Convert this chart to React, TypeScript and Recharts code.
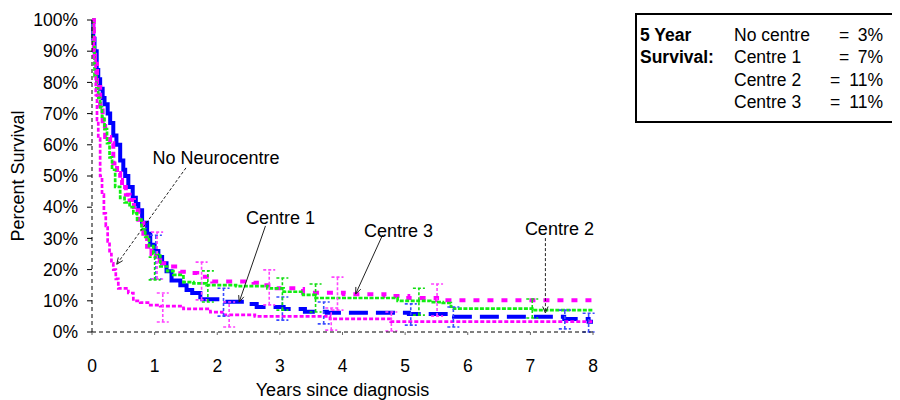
import { ComposedChart, Line, Scatter, ErrorBar, XAxis, YAxis, ReferenceLine } from "recharts";

const FONT = '"Liberation Sans", Arial, Helvetica, sans-serif';

const yearTicks = [0, 1, 2, 3, 4, 5, 6, 7, 8];
const percentTicks = [0, 10, 20, 30, 40, 50, 60, 70, 80, 90, 100];

// Kaplan-Meier steps: [years since diagnosis, % surviving]
const noCentreSteps = [
  [0, 100], [0.03, 88], [0.06, 76], [0.08, 68], [0.1, 62], [0.13, 50], [0.16, 44],
  [0.19, 38], [0.22, 34], [0.25, 29], [0.28, 25], [0.31, 22], [0.34, 20], [0.38, 17],
  [0.42, 14], [0.58, 12.5], [0.66, 10], [0.77, 9.4], [0.93, 8.6], [1.09, 8.3],
  [1.46, 7.4], [1.89, 6.4], [2.08, 5.5], [2.6, 5.0], [3.8, 4.2], [4.77, 3.3], [8, 3.3],
];
const centre1Steps = [
  [0, 100], [0.02, 94], [0.04, 90], [0.075, 84], [0.1, 81], [0.13, 78], [0.17, 75],
  [0.2, 73], [0.25, 70], [0.29, 67], [0.34, 63], [0.39, 60], [0.45, 55], [0.5, 52],
  [0.53, 50], [0.58, 46.5], [0.65, 43], [0.7, 41], [0.74, 39], [0.8, 35], [0.88, 31.5],
  [0.93, 28], [1.0, 26], [1.06, 24], [1.12, 22], [1.19, 19.5], [1.27, 16.5], [1.41, 15],
  [1.51, 13.5], [1.6, 12.5], [1.73, 10.5], [2.13, 9.7], [2.47, 9], [2.63, 8], [3.06, 7.4],
  [3.4, 6.5], [3.75, 6.2], [5.06, 5.8], [5.78, 4.9], [7.54, 4.2], [7.93, 3.3], [8, 3.3],
];
const centre2Steps = [
  [0, 100], [0.02, 92], [0.04, 82], [0.07, 78], [0.1, 75], [0.13, 72], [0.16, 69],
  [0.2, 65], [0.24, 60.5], [0.28, 56], [0.32, 52], [0.37, 46.5], [0.45, 43], [0.52, 41.5],
  [0.6, 40], [0.66, 38], [0.72, 36], [0.79, 33], [0.85, 30.5], [0.91, 27.5], [0.98, 25],
  [1.09, 21], [1.2, 19.5], [1.3, 18.3], [1.46, 16], [1.62, 15.6], [1.83, 15], [2.3, 14.7],
  [2.8, 14], [3.06, 12.9], [3.37, 11.9], [3.57, 10.9], [4.88, 10], [5.4, 9.6], [5.6, 9.3],
  [5.73, 8.1], [5.78, 7.5], [7.03, 7], [8, 7],
];
const centre3Steps = [
  [0, 100], [0.03, 90], [0.05, 86], [0.08, 78.5], [0.13, 71], [0.17, 66], [0.21, 62.5],
  [0.29, 60.5], [0.34, 54], [0.4, 51], [0.45, 48.7], [0.48, 46.5], [0.54, 44], [0.6, 42.3],
  [0.67, 39], [0.74, 36], [0.82, 30.5], [0.88, 27.3], [0.95, 25], [1.02, 23], [1.09, 22],
  [1.25, 21], [1.41, 19.3], [1.57, 18.9], [1.68, 17.7], [1.92, 16.2], [2.58, 15.8],
  [2.71, 15], [2.95, 14], [3.25, 13.8], [3.37, 12.6], [4.02, 12.1], [4.67, 11.5],
  [5.05, 10.9], [5.51, 10.2], [8, 10.2],
];

// confidence intervals: [years, lower %, upper %]
const noCentreCI = [[1.13, 3.2, 12.5], [2.19, 1.6, 9.6], [3.82, 0.6, 7.7], [4.78, 0.3, 6.4]];
const centre1CI = [
  [1.02, 17, 31], [2.1, 5.1, 14], [3.04, 3.8, 11.2], [3.7, 2.6, 9.6],
  [5.09, 2.2, 9], [5.77, 1.6, 8], [7.55, 1, 7], [7.93, 0, 6],
];
const centre2CI = [
  [1.0, 16.7, 24], [1.85, 9.6, 19.6], [3.04, 7, 17.3], [3.57, 6.4, 15.4],
  [5.22, 5.4, 14], [7.03, 4.5, 10.6],
];
const centre3CI = [[1.04, 17, 32], [1.75, 10.3, 22.4], [2.83, 8.7, 19.9], [3.92, 7, 17.6], [5.51, 5.1, 15.4]];

const fiveYear = [
  ["No centre", "3%"],
  ["Centre 1", "7%"],
  ["Centre 2", "11%"],
  ["Centre 3", "11%"],
];

type Pt = { t: number; s: number };

const toPts = (rows: number[][]): Pt[] => rows.map(([t, s]) => ({ t, s }));
const toBars = (rows: number[][]) =>
  rows.map(([t, lo, hi]) => ({ t, s: (lo + hi) / 2, err: (hi - lo) / 2 }));

// split a step curve so the steep early part and the flat tail can be stroked differently
function splitAt(pts: Pt[], t: number): [Pt[], Pt[]] {
  let idx = 0;
  pts.forEach((p, i) => {
    if (p.t <= t) idx = i;
  });
  return [pts.slice(0, idx + 1), pts.slice(idx)];
}

const noCentre = toPts(noCentreSteps);
const centre1 = toPts(centre1Steps);
const centre2 = toPts(centre2Steps);
const centre3 = toPts(centre3Steps);
const [centre1Early, centre1Late] = splitAt(centre1, 1.73);
const [centre3Early, centre3Late] = splitAt(centre3, 1.09);

type Note = {
  text: string;
  from: [number, number];
  to: [number, number];
  dx: number;
  dy: number;
  dashed: boolean;
};

const notes: Note[] = [
  { text: "No Neurocentre", from: [1.5, 52.6], to: [0.395, 21.7], dx: 30, dy: -10, dashed: true },
  { text: "Centre 1", from: [2.77, 34], to: [2.35, 9.6], dx: 15, dy: -8, dashed: false },
  { text: "Centre 3", from: [4.64, 31.1], to: [4.21, 12.2], dx: 16, dy: -4, dashed: false },
  { text: "Centre 2", from: [7.24, 30.1], to: [7.24, 6.1], dx: 14, dy: -9, dashed: true },
];

function arrowShape(note: Note) {
  return (props: any) => {
    const { x1, y1, x2, y2 } = props;
    const ang = Math.atan2(y2 - y1, x2 - x1);
    const len = 7;
    const a1 = ang + Math.PI - 0.4;
    const a2 = ang + Math.PI + 0.4;
    const head = `${x2 + len * Math.cos(a1)},${y2 + len * Math.sin(a1)} ${x2},${y2} ${x2 + len * Math.cos(a2)},${y2 + len * Math.sin(a2)}`;
    return (
      <g>
        <line
          x1={x1}
          y1={y1}
          x2={x2}
          y2={y2}
          stroke="#222"
          strokeWidth={1}
          strokeDasharray={note.dashed ? "3 2" : undefined}
        />
        <polyline points={head} fill="none" stroke="#222" strokeWidth={1} />
        <text
          x={x1 + note.dx}
          y={y1 + note.dy}
          textAnchor="middle"
          dominantBaseline="central"
          fontSize={18}
          fontFamily={FONT}
          fill="#000"
        >
          {note.text}
        </text>
      </g>
    );
  };
}

const noShape = () => <g />;

function SurvivalBox() {
  return (
    <div
      style={{
        position: "absolute",
        left: 627,
        top: 5,
        width: 258,
        height: 97,
        border: "2px solid #000",
        fontFamily: FONT,
        fontSize: 17.5,
        color: "#000",
        paddingTop: 9,
      }}
    >
      {fiveYear.map(([name, value], i) => (
        <div key={name} style={{ position: "relative", height: 22.3, lineHeight: "22px" }}>
          {i === 0 && <span style={{ position: "absolute", left: 3, fontWeight: "bold" }}>5 Year</span>}
          {i === 1 && <span style={{ position: "absolute", left: 3, fontWeight: "bold" }}>Survival:</span>}
          <span style={{ position: "absolute", left: 97 }}>{name}</span>
          <span style={{ position: "absolute", left: value.length > 2 ? 193 : 202 }}>=</span>
          <span style={{ position: "absolute", right: 12 }}>{value}</span>
        </div>
      ))}
    </div>
  );
}

export default function App() {
  return (
    <div style={{ position: "relative", width: 892, height: 392, fontFamily: FONT }}>
      <ComposedChart width={600} height={392} margin={{ top: 12, right: 15, bottom: 0, left: 0 }}>
        <XAxis
          type="number"
          dataKey="t"
          domain={[0, 8]}
          ticks={yearTicks}
          interval={0}
          height={68}
          axisLine={{ stroke: "#000", strokeDasharray: "4 3" }}
          tickLine={{ stroke: "#666" }}
          tickSize={3}
          tickMargin={25}
          tick={{ fill: "#000", fontSize: 17.5, fontFamily: FONT }}
          label={{
            value: "Years since diagnosis",
            position: "insideBottom",
            offset: 4,
            fill: "#000",
            fontSize: 18,
            fontFamily: FONT,
          }}
        />
        <YAxis
          type="number"
          domain={[0, 100]}
          ticks={percentTicks}
          interval={0}
          width={84}
          axisLine={{ stroke: "#000", strokeDasharray: "4 3" }}
          tickLine={{ stroke: "#000" }}
          tickSize={5}
          tickMargin={9}
          tickFormatter={(v: number) => `${v}%`}
          tick={{ fill: "#000", fontSize: 17.5, fontFamily: FONT }}
        />

        <Line data={centre1Early} dataKey="s" type="stepAfter" stroke="#0000ff" strokeWidth={4} dot={false} isAnimationActive={false} />
        <Line data={centre1Late} dataKey="s" type="stepAfter" stroke="#0000ff" strokeWidth={4} strokeDasharray="19 8" dot={false} isAnimationActive={false} />
        <Line data={centre3Early} dataKey="s" type="stepAfter" stroke="#ff00ff" strokeWidth={4} strokeDasharray="6 3" dot={false} isAnimationActive={false} />
        <Line data={centre3Late} dataKey="s" type="stepAfter" stroke="#ff00ff" strokeWidth={4} strokeDasharray="6 8" dot={false} isAnimationActive={false} />
        <Line data={centre2} dataKey="s" type="stepAfter" stroke="#11ee11" strokeWidth={2.7} strokeDasharray="4 1.5" dot={false} isAnimationActive={false} />
        <Line data={noCentre} dataKey="s" type="stepAfter" stroke="#ff00ff" strokeWidth={2.7} strokeDasharray="4 2" dot={false} isAnimationActive={false} />

        <Scatter data={toBars(centre1CI)} dataKey="s" shape={noShape} isAnimationActive={false}>
          <ErrorBar dataKey="err" direction="y" width={6} stroke="#3a4cff" strokeWidth={1.6} strokeDasharray="3 2" isAnimationActive={false} />
        </Scatter>
        <Scatter data={toBars(centre3CI)} dataKey="s" shape={noShape} isAnimationActive={false}>
          <ErrorBar dataKey="err" direction="y" width={6} stroke="#ff44ff" strokeWidth={1.6} strokeDasharray="3 2" isAnimationActive={false} />
        </Scatter>
        <Scatter data={toBars(centre2CI)} dataKey="s" shape={noShape} isAnimationActive={false}>
          <ErrorBar dataKey="err" direction="y" width={6} stroke="#11dd11" strokeWidth={1.6} strokeDasharray="3 2" isAnimationActive={false} />
        </Scatter>
        <Scatter data={toBars(noCentreCI)} dataKey="s" shape={noShape} isAnimationActive={false}>
          <ErrorBar dataKey="err" direction="y" width={6} stroke="#ff44ff" strokeWidth={1.6} strokeDasharray="3 2" isAnimationActive={false} />
        </Scatter>

        {notes.map((n) => (
          <ReferenceLine
            key={n.text}
            segment={[
              { x: n.from[0], y: n.from[1] },
              { x: n.to[0], y: n.to[1] },
            ]}
            ifOverflow="visible"
            shape={arrowShape(n)}
          />
        ))}

        <text
          x={10}
          y={168}
          transform="rotate(-90 10 168)"
          textAnchor="middle"
          dominantBaseline="central"
          fontSize={18}
          fontFamily={FONT}
          fill="#000"
        >
          Percent Survival
        </text>
      </ComposedChart>
      <SurvivalBox />
    </div>
  );
}
